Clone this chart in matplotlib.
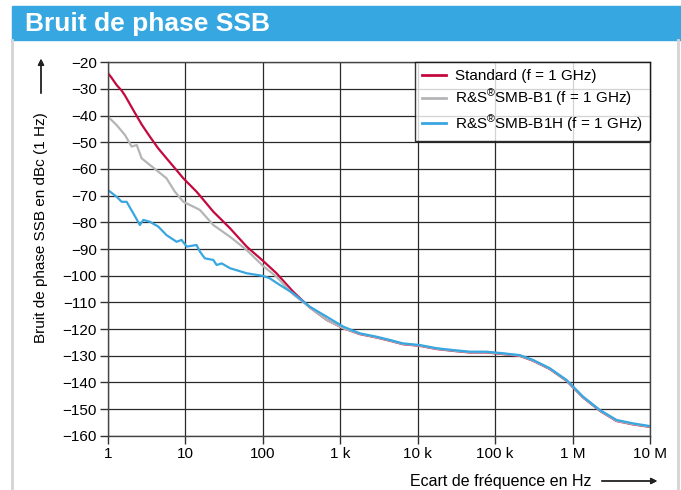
import matplotlib
matplotlib.use("Agg")
import matplotlib.pyplot as plt
from matplotlib.patches import Rectangle
from matplotlib.lines import Line2D

plt.rcParams['font.family'] = ['Liberation Sans', 'DejaVu Sans']
plt.rcParams['mathtext.fontset'] = 'custom'
plt.rcParams['mathtext.rm'] = 'Liberation Sans'
plt.rcParams['mathtext.default'] = 'regular'

# frequency offset (Hz) and SSB phase noise (dBc/Hz)
tail_f = [1780, 2950, 4370, 6450, 10.6e3, 17.5e3, 28.8e3, 47e3, 77e3, 127e3, 209e3,
          309e3, 508e3, 835e3, 1.37e6, 2.26e6, 3.7e6, 6.1e6, 10e6]
blue_tail = [-121.6, -122.9, -124.1, -125.4, -126.0, -127.2, -127.9, -128.5, -128.5, -129.1,
             -129.8, -131.6, -134.7, -139.1, -145.4, -150.4, -154.1, -155.4, -156.4]
red_tail = [-121.9, -123.2, -124.4, -125.7, -126.3, -127.5, -128.2, -128.8, -128.8, -129.4,
            -130.1, -131.9, -135.0, -139.4, -145.7, -150.7, -154.5, -155.8, -156.7]
gray_tail = [-121.8, -123.1, -124.3, -125.6, -126.2, -127.4, -128.1, -128.7, -128.7, -129.3,
             -130.0, -131.8, -134.9, -139.3, -145.6, -150.6, -154.4, -155.7, -156.6]

std_f = [1, 1.1, 1.29, 1.5, 1.66, 2.12, 2.72, 3.48, 4.46, 5.7, 7.3, 9.4, 13.9, 15.4, 22.9,
         37.6, 61.8, 101, 150, 246, 400, 670, 1090]
std_db = [-24.1, -25.6, -28.5, -30.6, -32.5, -37.9, -43.3, -47.9, -52.3, -56.0, -59.7, -63.5,
          -68.5, -70.0, -76.0, -82.2, -89.1, -94.5, -99.1, -106.0, -111.8, -116.6, -119.7]

b1_f = [1, 1.29, 1.66, 2.02, 2.35, 2.72, 3.48, 4.46, 5.7, 7.3, 9.4, 13.9, 15.4, 22.9, 37.6,
        61.8, 101, 150, 246, 400, 670, 1090]
b1_db = [-40.4, -43.5, -47.3, -51.6, -51.0, -56.0, -58.5, -61.0, -63.5, -68.5, -72.3, -74.7,
         -75.4, -81.0, -85.4, -90.4, -96.4, -100.4, -107.0, -111.8, -116.6, -119.7]

b1h_f = [1, 1.29, 1.5, 1.74, 2.12, 2.58, 2.86, 3.48, 4.46, 5.7, 7.7, 8.9, 10.4, 13.9, 15.4,
         17.8, 22.9, 25.3, 29.4, 37.6, 61.8, 101, 123, 166, 246, 403, 669, 1090]
b1h_db = [-67.9, -70.4, -72.3, -72.3, -76.6, -81.0, -79.1, -79.8, -81.6, -84.8, -87.3, -86.6,
          -89.1, -88.5, -91.0, -93.5, -94.1, -96.0, -95.4, -97.2, -99.1, -100.1, -101.0, -103.5,
          -106.6, -111.6, -115.4, -119.1]

x_ticks = [1, 10, 100, 1e3, 1e4, 1e5, 1e6, 1e7]
x_labels = ['1', '10', '100', '1 k', '10 k', '100 k', '1 M', '10 M']
y_ticks = list(range(-160, -19, 10))
y_labels = ['\u2212%d' % -v for v in y_ticks]

series = ['Standard (f = 1 GHz)', 'R&S$^{®}$SMB-B1 (f = 1 GHz)', 'R&S$^{®}$SMB-B1H (f = 1 GHz)']
colors = ['#c4093f', '#b4b5b7', '#38a6e0']

W, H = 681, 490
fig = plt.figure(figsize=(W / 100, H / 100), dpi=100)

# title bar and page borders
fig.patches.append(Rectangle((12 / W, 1 - 40.5 / H), (W - 12) / W, 34.5 / H,
                             transform=fig.transFigure, color='#36a7e1', zorder=0))
fig.text(25 / W, 1 - 23.5 / H, 'Bruit de phase SSB', color='white', fontsize=19,
         fontweight='bold', va='center', ha='left')
fig.add_artist(Line2D([12 / W, 12 / W], [0, 1 - 40.5 / H], color='#d4d4d4', lw=2))
fig.add_artist(Line2D([678 / W, 678 / W], [0, 1 - 40.5 / H], color='#d4d4d4', lw=2))

ax = fig.add_axes([108 / W, 1 - 435.7 / H, (650 - 108) / W, (435.7 - 62.3) / H])
ax.plot(std_f + tail_f, std_db + red_tail, color=colors[0], lw=1.6, label=series[0])
ax.plot(b1_f + tail_f, b1_db + gray_tail, color=colors[1], lw=1.6, label=series[1])
ax.plot(b1h_f + tail_f, b1h_db + blue_tail, color=colors[2], lw=1.6, label=series[2])

ax.set_xscale('log')
ax.set_xlim(1, 1e7)
ax.set_ylim(-160, -20)
ax.set_xticks(x_ticks)
ax.set_xticklabels(x_labels)
ax.minorticks_off()
ax.set_yticks(y_ticks)
ax.set_yticklabels(y_labels)
ax.tick_params(axis='both', labelsize=11, length=6, width=1, color='#333333', pad=2)
ax.grid(True, color='#2a2a2a', lw=0.9)
for s in ax.spines.values():
    s.set_color('#444444')
    s.set_linewidth(1)

leg = ax.legend(loc='upper right', fontsize=11, frameon=True, fancybox=False,
                borderaxespad=0, handlelength=1.6, handletextpad=0.6, borderpad=0.45,
                labelspacing=0.3)
leg.get_frame().set_edgecolor('black')
leg.get_frame().set_linewidth(1)
for h in leg.get_lines():
    h.set_linewidth(2)

# axis labels with arrows
fig.text(41 / W, 1 - 228 / H, 'Bruit de phase SSB en dBc (1 Hz)', rotation=90,
         fontsize=11, ha='center', va='center')
fig.add_artist(plt.annotate('', xy=(41 / W, 1 - 56 / H), xytext=(41 / W, 1 - 96 / H),
                            xycoords='figure fraction', textcoords='figure fraction',
                            arrowprops=dict(arrowstyle='-|>', color='#222222', lw=1,
                                            mutation_scale=9)))
fig.text(591 / W, 1 - 481 / H, 'Ecart de fréquence en Hz', fontsize=11.5, ha='right', va='center')
fig.add_artist(plt.annotate('', xy=(660 / W, 1 - 481 / H), xytext=(599 / W, 1 - 481 / H),
                            xycoords='figure fraction', textcoords='figure fraction',
                            arrowprops=dict(arrowstyle='-|>', color='#222222', lw=1,
                                            mutation_scale=9)))

fig.savefig('out.png', dpi=100)
